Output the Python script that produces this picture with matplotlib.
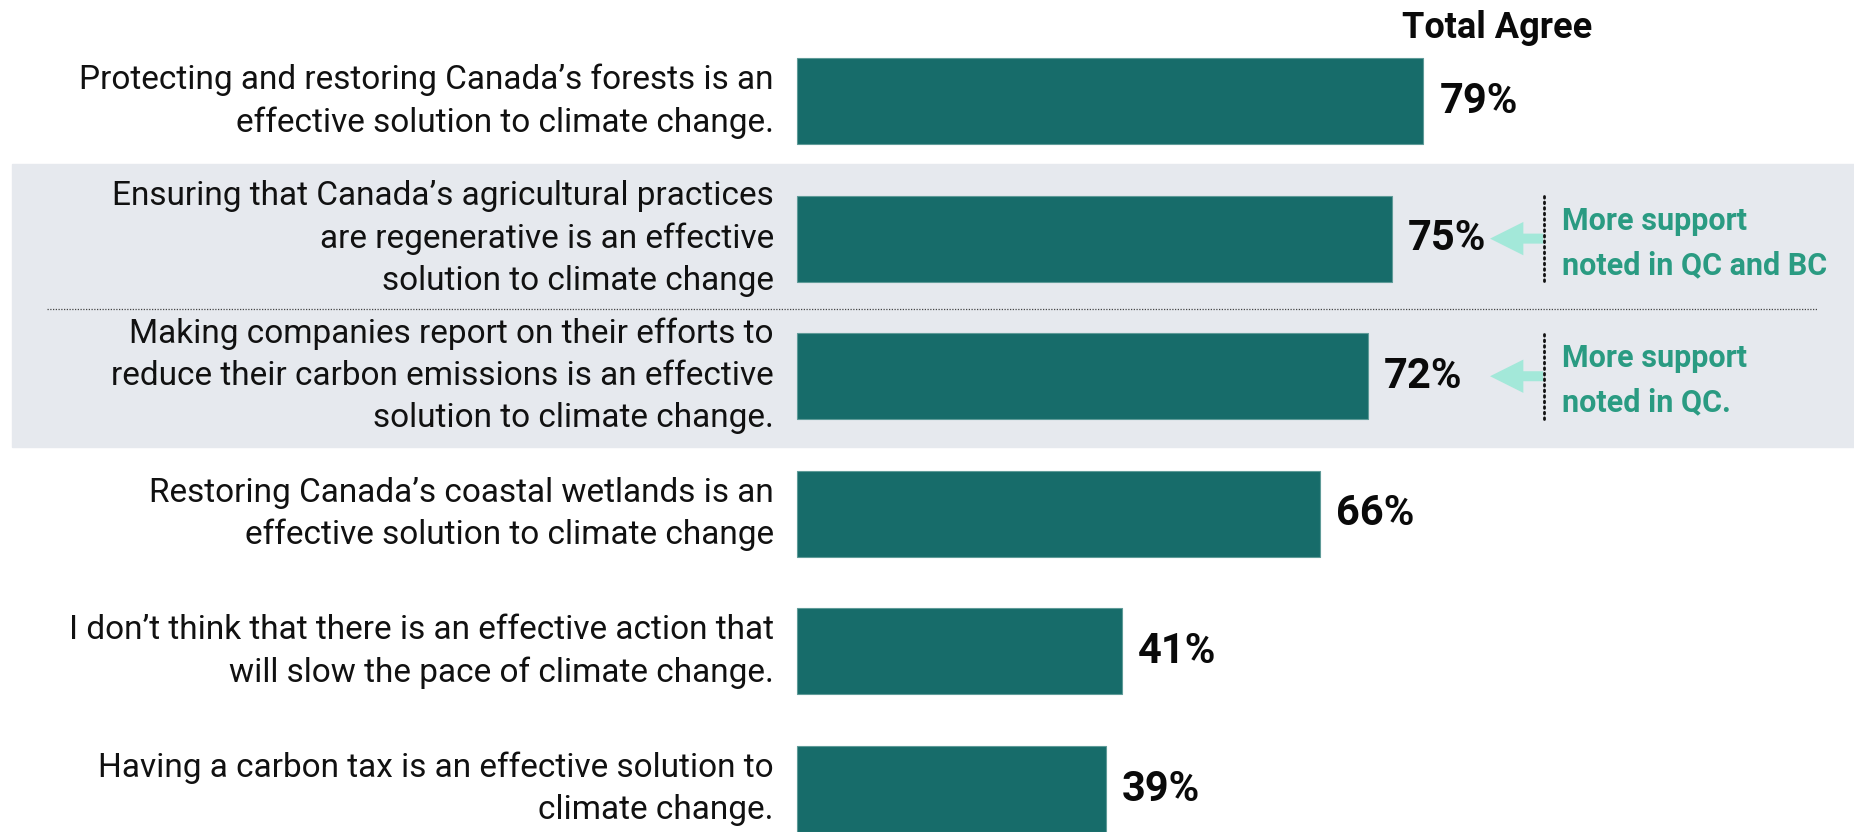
import matplotlib
matplotlib.use("Agg")
import matplotlib.pyplot as plt

plt.rcParams['font.family'] = ['Roboto', 'DejaVu Sans']

statements = [
    "Protecting and restoring Canada’s forests is an\neffective solution to climate change.",
    "Ensuring that Canada’s agricultural practices\nare regenerative is an effective\nsolution to climate change",
    "Making companies report on their efforts to\nreduce their carbon emissions is an effective\nsolution to climate change.",
    "Restoring Canada’s coastal wetlands is an\neffective solution to climate change",
    "I don’t think that there is an effective action that\nwill slow the pace of climate change.",
    "Having a carbon tax is an effective solution to\nclimate change.",
]
total_agree = [79, 75, 72, 66, 41, 39]
value_labels = ["79%", "75%", "72%", "66%", "41%", "39%"]
regional_notes = {1: "More support\nnoted in QC and BC", 2: "More support\nnoted in QC."}

BAR = "#176c6a"
BAND = "#e6e9ee"
NOTE = "#2a9b82"
ARROW = "#a3e8d9"

fig = plt.figure(figsize=(18.54, 8.32), dpi=100)
ax = fig.add_axes([0, 0, 1, 1])
ax.set_xlim(-100.5, 133.3)
ax.set_ylim(5.312, -0.734)
ax.axis("off")

# shaded block behind the two rows with regional differences
ax.axhspan(0.458, 2.515, xmin=12 / 1854, xmax=1, color=BAND, zorder=0)
ax.plot([-94.6, 128.6], [1.512, 1.512], color="#444444", lw=0.9,
        ls=(0, (1, 1.2)), zorder=1)

pos = list(range(len(total_agree)))
ax.barh(pos, total_agree, height=0.625, color=BAR, edgecolor="#5f9b98",
        linewidth=0.8, zorder=2)

for i, (txt, v, lab) in enumerate(zip(statements, total_agree, value_labels)):
    ax.text(-2.9, i, txt, ha="right", va="center", fontsize=24,
            color="#111111", linespacing=1.4)
    ax.text(v + 2.0, i, lab, ha="left", va="center", fontsize=30,
            fontweight="bold", color="#0a0a0a")

ax.text(88.3, -0.53, "Total Agree", ha="center", va="center", fontsize=26,
        fontweight="bold", color="#0a0a0a")

for i, note in regional_notes.items():
    ax.annotate("", xy=(87.4, i), xytext=(94.1, i),
                arrowprops=dict(arrowstyle="simple,head_length=1.0,head_width=1.0,tail_width=0.3",
                                mutation_scale=24, color=ARROW, shrinkA=0, shrinkB=0,
                                lw=0))
    ax.plot([94.2, 94.2], [i - 0.31, i + 0.33], color="#111111", lw=2,
            ls=(0, (0.6, 1.4)), dash_capstyle="round", zorder=3)
    ax.text(96.5, i + 0.03, note, ha="left", va="center", fontsize=22,
            fontweight="bold", color=NOTE, linespacing=1.6)

fig.savefig("out.png", dpi=100)
